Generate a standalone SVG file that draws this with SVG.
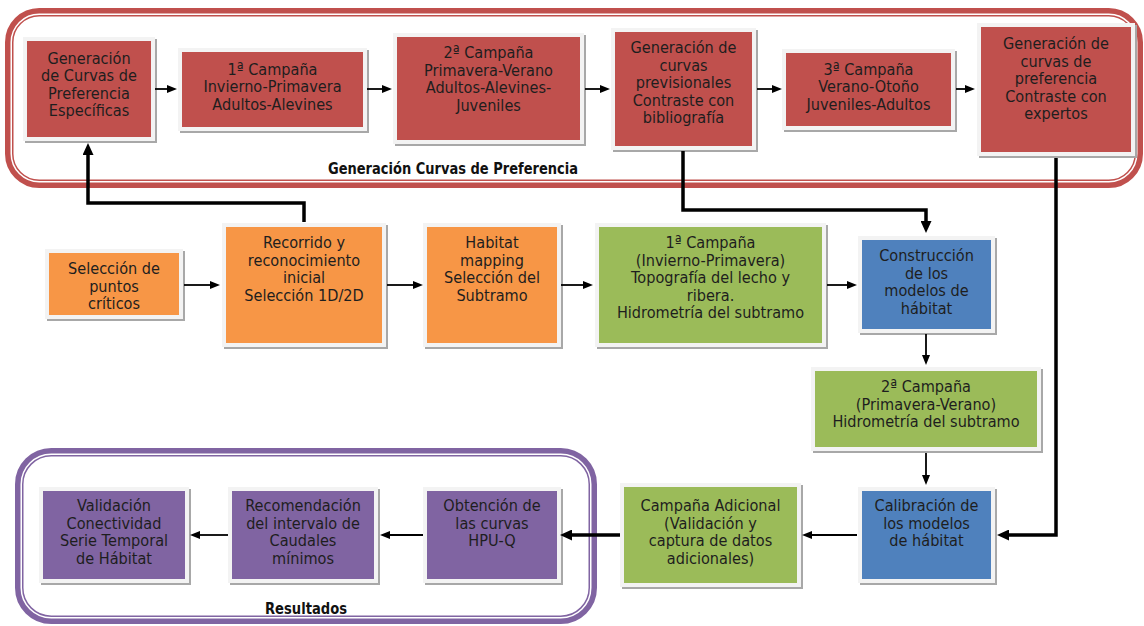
<svg xmlns="http://www.w3.org/2000/svg" width="1144" height="626" viewBox="0 0 1144 626">
<style>
.shd{fill:#a8a8a8}
.frm{fill:#f3f3f3}
.red{fill:#c0504d}.org{fill:#f79646}.grn{fill:#9bbb59}.blu{fill:#4f81bd}.pur{fill:#8064a2}
.t{font-family:"DejaVu Sans",Verdana,sans-serif;font-size:16.5px;fill:#1e1e1e;text-anchor:middle}
.lbl{font-family:"DejaVu Sans",Verdana,sans-serif;font-weight:bold;font-size:15.5px;fill:#111;text-anchor:middle}
.ln{fill:none;stroke:#000;stroke-width:1.8}
.thk{fill:none;stroke:#000;stroke-width:3.5}
</style>
<defs>
<marker id="ah" viewBox="0 0 10 8" markerWidth="10" markerHeight="8" refX="2" refY="4" orient="auto" markerUnits="userSpaceOnUse"><path d="M0,0 L10,4 L0,8 z" fill="#000"/></marker>
<marker id="ahT" viewBox="0 0 12 11" markerWidth="12" markerHeight="11" refX="2" refY="5.5" orient="auto" markerUnits="userSpaceOnUse"><path d="M0,0 L12,5.5 L0,11 z" fill="#000"/></marker>
</defs>
<rect width="1144" height="626" fill="#fff"/>

<g id="grp-curvas">
<rect x="9.25" y="12.25" width="1129.5" height="171.5" rx="30" fill="none" stroke="#c0504d" stroke-width="8.5"/>
<rect x="11.25" y="14.25" width="1125.5" height="167.5" rx="28" fill="none" stroke="#fff" stroke-width="1.5"/>
<text class="lbl" x="453" y="174" textLength="250" lengthAdjust="spacingAndGlyphs">Generación Curvas de Preferencia</text>
</g>
<g id="grp-resultados">
<rect x="19.25" y="452.25" width="573.5" height="167.5" rx="32" fill="none" stroke="#8064a2" stroke-width="8.5"/>
<rect x="21.25" y="454.25" width="569.5" height="163.5" rx="30" fill="none" stroke="#fff" stroke-width="1.5"/>
<text class="lbl" x="306" y="614" textLength="82" lengthAdjust="spacingAndGlyphs">Resultados</text>
</g>

<g id="n1"><rect class="shd" x="25" y="39" width="132" height="104"/><rect class="frm" x="23" y="37" width="132" height="104"/><rect class="red" x="27" y="41" width="124" height="96"/>
<text class="t" transform="translate(89 0) scale(0.88 1)"><tspan x="0" y="64">Generación</tspan><tspan x="0" y="81.5">de Curvas de</tspan><tspan x="0" y="99">Preferencia</tspan><tspan x="0" y="116.5">Específicas</tspan></text></g>

<g id="n2"><rect class="shd" x="180" y="50" width="189" height="83"/><rect class="frm" x="178" y="48" width="189" height="83"/><rect class="red" x="182" y="52" width="181" height="75"/>
<text class="t" transform="translate(272.5 0) scale(0.88 1)"><tspan x="0" y="75">1ª Campaña</tspan><tspan x="0" y="92.5">Invierno-Primavera</tspan><tspan x="0" y="110">Adultos-Alevines</tspan></text></g>

<g id="n3"><rect class="shd" x="395" y="35" width="191" height="111"/><rect class="frm" x="393" y="33" width="191" height="111"/><rect class="red" x="397" y="37" width="183" height="103"/>
<text class="t" transform="translate(488.5 0) scale(0.88 1)"><tspan x="0" y="58.5">2ª Campaña</tspan><tspan x="0" y="76">Primavera-Verano</tspan><tspan x="0" y="93.5">Adultos-Alevines-</tspan><tspan x="0" y="111">Juveniles</tspan></text></g>

<g id="n4"><rect class="shd" x="613" y="30" width="145" height="122"/><rect class="frm" x="611" y="28" width="145" height="122"/><rect class="red" x="615" y="32" width="137" height="114"/>
<text class="t" transform="translate(683.5 0) scale(0.88 1)"><tspan x="0" y="53.5">Generación de</tspan><tspan x="0" y="71">curvas</tspan><tspan x="0" y="88.5">previsionales</tspan><tspan x="0" y="106">Contraste con</tspan><tspan x="0" y="123.5">bibliografía</tspan></text></g>

<g id="n5"><rect class="shd" x="784" y="51" width="173" height="81"/><rect class="frm" x="782" y="49" width="173" height="81"/><rect class="red" x="786" y="53" width="165" height="73"/>
<text class="t" transform="translate(868.5 0) scale(0.88 1)"><tspan x="0" y="75">3ª Campaña</tspan><tspan x="0" y="92.5">Verano-Otoño</tspan><tspan x="0" y="110">Juveniles-Adultos</tspan></text></g>

<g id="n6"><rect class="shd" x="979" y="25" width="158" height="133"/><rect class="frm" x="977" y="23" width="158" height="133"/><rect class="red" x="981" y="27" width="150" height="125"/>
<text class="t" transform="translate(1056 0) scale(0.88 1)"><tspan x="0" y="49.5">Generación de</tspan><tspan x="0" y="67">curvas de</tspan><tspan x="0" y="84.5">preferencia</tspan><tspan x="0" y="102">Contraste con</tspan><tspan x="0" y="119.5">expertos</tspan></text></g>

<g id="n7"><rect class="shd" x="47" y="251" width="138" height="70"/><rect class="frm" x="45" y="249" width="138" height="70"/><rect class="org" x="49" y="253" width="130" height="62"/>
<text class="t" transform="translate(114 0) scale(0.88 1)"><tspan x="0" y="274.5">Selección de</tspan><tspan x="0" y="292">puntos</tspan><tspan x="0" y="309.5">críticos</tspan></text></g>

<g id="n8"><rect class="shd" x="224" y="225" width="164" height="124"/><rect class="frm" x="222" y="223" width="164" height="124"/><rect class="org" x="226" y="227" width="156" height="116"/>
<text class="t" transform="translate(304 0) scale(0.88 1)"><tspan x="0" y="248.5">Recorrido y</tspan><tspan x="0" y="266">reconocimiento</tspan><tspan x="0" y="283.5">inicial</tspan><tspan x="0" y="301">Selección 1D/2D</tspan></text></g>

<g id="n9"><rect class="shd" x="425" y="225" width="138" height="124"/><rect class="frm" x="423" y="223" width="138" height="124"/><rect class="org" x="427" y="227" width="130" height="116"/>
<text class="t" transform="translate(492 0) scale(0.88 1)"><tspan x="0" y="248.5">Habitat</tspan><tspan x="0" y="266">mapping</tspan><tspan x="0" y="283.5">Selección del</tspan><tspan x="0" y="301">Subtramo</tspan></text></g>

<g id="n10"><rect class="shd" x="597" y="225" width="231" height="124"/><rect class="frm" x="595" y="223" width="231" height="124"/><rect class="grn" x="599" y="227" width="223" height="116"/>
<text class="t" transform="translate(710.5 0) scale(0.88 1)"><tspan x="0" y="248.5">1ª Campaña</tspan><tspan x="0" y="266">(Invierno-Primavera)</tspan><tspan x="0" y="283.5">Topografía del lecho y</tspan><tspan x="0" y="301">ribera.</tspan><tspan x="0" y="318.5">Hidrometría del subtramo</tspan></text></g>

<g id="n11"><rect class="shd" x="860" y="238" width="137" height="97"/><rect class="frm" x="858" y="236" width="137" height="97"/><rect class="blu" x="862" y="240" width="129" height="89"/>
<text class="t" transform="translate(926.5 0) scale(0.88 1)"><tspan x="0" y="261.5">Construcción</tspan><tspan x="0" y="279">de los</tspan><tspan x="0" y="296.5">modelos de</tspan><tspan x="0" y="314">hábitat</tspan></text></g>

<g id="n12"><rect class="shd" x="813" y="369" width="230" height="84"/><rect class="frm" x="811" y="367" width="230" height="84"/><rect class="grn" x="815" y="371" width="222" height="76"/>
<text class="t" transform="translate(926 0) scale(0.88 1)"><tspan x="0" y="392.5">2ª Campaña</tspan><tspan x="0" y="410">(Primavera-Verano)</tspan><tspan x="0" y="427.5">Hidrometría del subtramo</tspan></text></g>

<g id="n13"><rect class="shd" x="860" y="489" width="137" height="96"/><rect class="frm" x="858" y="487" width="137" height="96"/><rect class="blu" x="862" y="491" width="129" height="88"/>
<text class="t" transform="translate(926.5 0) scale(0.88 1)"><tspan x="0" y="511.5">Calibración de</tspan><tspan x="0" y="529">los modelos</tspan><tspan x="0" y="546.5">de hábitat</tspan></text></g>

<g id="n14"><rect class="shd" x="622" y="485" width="181" height="104"/><rect class="frm" x="620" y="483" width="181" height="104"/><rect class="grn" x="624" y="487" width="173" height="96"/>
<text class="t" transform="translate(710.5 0) scale(0.88 1)"><tspan x="0" y="511.5">Campaña Adicional</tspan><tspan x="0" y="529">(Validación y</tspan><tspan x="0" y="546.5">captura de datos</tspan><tspan x="0" y="564">adicionales)</tspan></text></g>

<g id="n15"><rect class="shd" x="425" y="489" width="138" height="96"/><rect class="frm" x="423" y="487" width="138" height="96"/><rect class="pur" x="427" y="491" width="130" height="88"/>
<text class="t" transform="translate(492 0) scale(0.88 1)"><tspan x="0" y="511.5">Obtención de</tspan><tspan x="0" y="529">las curvas</tspan><tspan x="0" y="546.5">HPU-Q</tspan></text></g>

<g id="n16"><rect class="shd" x="230" y="489" width="150" height="96"/><rect class="frm" x="228" y="487" width="150" height="96"/><rect class="pur" x="232" y="491" width="142" height="88"/>
<text class="t" transform="translate(303 0) scale(0.88 1)"><tspan x="0" y="511.5">Recomendación</tspan><tspan x="0" y="529">del intervalo de</tspan><tspan x="0" y="546.5">Caudales</tspan><tspan x="0" y="564">mínimos</tspan></text></g>

<g id="n17"><rect class="shd" x="41" y="489" width="150" height="96"/><rect class="frm" x="39" y="487" width="150" height="96"/><rect class="pur" x="43" y="491" width="142" height="88"/>
<text class="t" transform="translate(114 0) scale(0.88 1)"><tspan x="0" y="511.5">Validación</tspan><tspan x="0" y="529">Conectividad</tspan><tspan x="0" y="546.5">Serie Temporal</tspan><tspan x="0" y="564">de Hábitat</tspan></text></g>

<g id="connectors">
<path class="ln" d="M155,89 H169" marker-end="url(#ah)"/>
<path class="ln" d="M367,89 H384" marker-end="url(#ah)"/>
<path class="ln" d="M585,89 H602" marker-end="url(#ah)"/>
<path class="ln" d="M757,89 H774" marker-end="url(#ah)"/>
<path class="ln" d="M956,89 H967" marker-end="url(#ah)"/>
<path class="ln" d="M184,285 H212" marker-end="url(#ah)"/>
<path class="ln" d="M387,285 H415" marker-end="url(#ah)"/>
<path class="ln" d="M561,285 H585" marker-end="url(#ah)"/>
<path class="ln" d="M827,285 H849" marker-end="url(#ah)"/>
<path class="ln" d="M926,334 V357" marker-end="url(#ah)"/>
<path class="ln" d="M926,453 V477" marker-end="url(#ah)"/>
<path class="ln" d="M857,535 H810" marker-end="url(#ah)"/>
<path class="ln" d="M423,535 H388" marker-end="url(#ah)"/>
<path class="ln" d="M228,535 H198" marker-end="url(#ah)"/>
<path class="thk" d="M304,222 V203 H88 V153" marker-end="url(#ahT)"/>
<path class="thk" d="M683,151 V210 H926 V223" marker-end="url(#ahT)"/>
<path class="thk" d="M1056,158 V535 H1007" marker-end="url(#ahT)"/>
<path class="thk" d="M620,535 H570" marker-end="url(#ahT)"/>
</g>
</svg>
